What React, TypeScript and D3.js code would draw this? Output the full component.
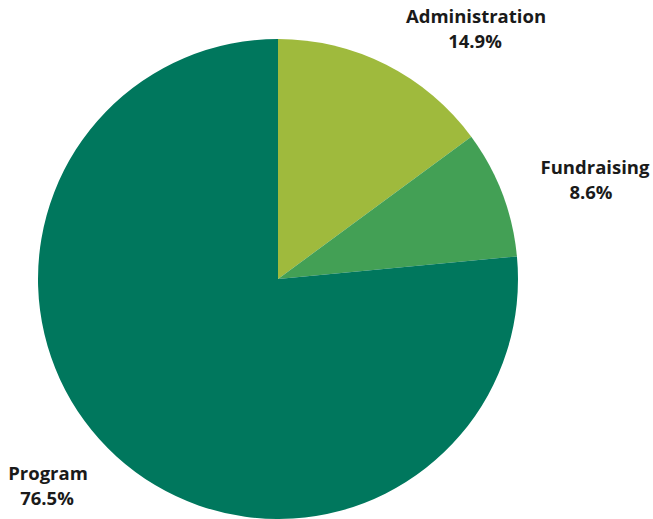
import { useMemo } from 'react';
import * as d3 from 'd3';

const categories = ['Administration', 'Fundraising', 'Program'];
const values = [14.9, 8.6, 76.5];
const labels = ['14.9%', '8.6%', '76.5%'];
const colors = ['#9fba3d', '#43a055', '#00775d'];

const W = 653;
const H = 519;
const cx = 278;
const cy = 279;
const radius = 240;

// label anchors (centre of the first line), tuned to the reference layout
const labelPos: [number, number][] = [
  [476, 17],
  [595, 168],
  [48, 474],
];
const pctShift = [-1, -4, -1];

export default function App() {
  const arcs = useMemo(() => {
    const pie = d3.pie<number>().sort(null).value(d => d);
    return pie(values);
  }, []);

  const arc = d3.arc<d3.PieArcDatum<number>>().innerRadius(0).outerRadius(radius);

  return (
    <svg
      width={W}
      height={H}
      style={{ position: 'fixed', left: 0, top: 0, background: '#fff' }}
      fontFamily="'Open Sans', sans-serif"
    >
      <g transform={`translate(${cx},${cy})`}>
        {arcs.map((a, i) => (
          <path key={categories[i]} d={arc(a) || ''} fill={colors[i]} />
        ))}
      </g>
      {categories.map((c, i) => (
        <text
          key={c}
          x={labelPos[i][0]}
          y={labelPos[i][1]}
          textAnchor="middle"
          fontWeight={700}
          fontSize={18.5}
          fill="#1a1a1a"
        >
          <tspan x={labelPos[i][0]} dy="0.35em">{c}</tspan>
          <tspan x={labelPos[i][0] + pctShift[i]} dy={25}>{labels[i]}</tspan>
        </text>
      ))}
    </svg>
  );
}
